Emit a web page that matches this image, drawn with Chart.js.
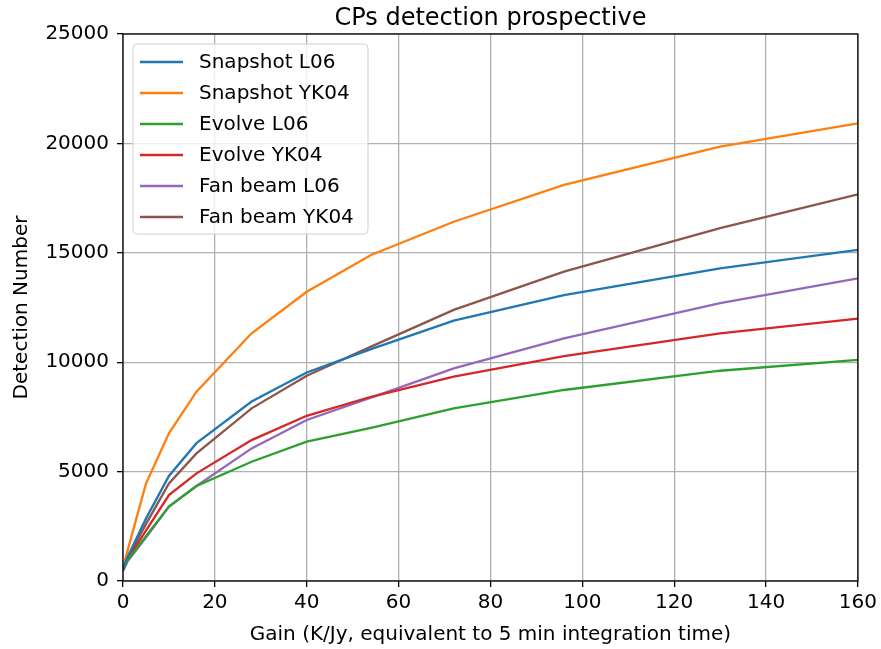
<!DOCTYPE html>
<html>
<head>
<meta charset="utf-8">
<script src="https://cdn.jsdelivr.net/npm/chart.js@4"></script>
<style>
  body { margin: 0; background: #fff; }
  #wrap { width: 881px; height: 649px; }
</style>
</head>
<body>
<div id="wrap"><canvas id="myChart" width="881" height="649"></canvas></div>
<script>
// gain values (K/Jy) where each curve was sampled
const gain = [0, 1, 5, 10, 16, 28, 40, 54, 72, 96, 130, 160];

const snapshotL06 = [550, 1100, 2850, 4800, 6300, 8200, 9530, 10600, 11900, 13070, 14290, 15130];
const snapshotYK04 = [600, 1400, 4450, 6750, 8650, 11320, 13220, 14900, 16420, 18100, 19850, 20920];
const evolveL06 = [500, 950, 2050, 3400, 4340, 5450, 6370, 7000, 7890, 8730, 9610, 10110];
const evolveYK04 = [520, 1000, 2300, 3930, 4920, 6440, 7550, 8420, 9340, 10280, 11320, 11990];
const fanBeamL06 = [450, 900, 1980, 3400, 4340, 6060, 7360, 8380, 9720, 11090, 12700, 13830];
const fanBeamYK04 = [530, 1050, 2600, 4460, 5830, 7890, 9380, 10710, 12390, 14140, 16130, 17670];

const labels = ["Snapshot L06", "Snapshot YK04", "Evolve L06", "Evolve YK04", "Fan beam L06", "Fan beam YK04"];
const xTicks = [0, 20, 40, 60, 80, 100, 120, 140, 160];
const yTicks = [0, 5000, 10000, 15000, 20000, 25000];

const series = [snapshotL06, snapshotYK04, evolveL06, evolveYK04, fanBeamL06, fanBeamYK04];
const colores = ["#1f77b4", "#ff7f0e", "#2ca02c", "#d62728", "#9467bd", "#8c564b"];

const titulo = "CPs detection prospective";
const FONT = "'DejaVu Sans', sans-serif";

function puntos(valores) {
  return gain.map((g, i) => ({ x: g, y: valores[i] }));
}

// black frame around the plot, like matplotlib spines
const marco = {
  id: "marco",
  afterDatasetsDraw(chart) {
    const a = chart.chartArea;
    const ctx = chart.ctx;
    ctx.save();
    ctx.strokeStyle = "#000";
    ctx.lineWidth = 1.3;
    ctx.strokeRect(a.left, a.top, a.right - a.left, a.bottom - a.top);
    ctx.restore();
  },
};

// title centred over the plot area (not over the whole canvas)
const tituloPlugin = {
  id: "tituloPlugin",
  afterDraw(chart) {
    const a = chart.chartArea;
    const ctx = chart.ctx;
    ctx.save();
    ctx.font = "24px " + FONT;
    ctx.fillStyle = "#000";
    ctx.textAlign = "center";
    ctx.textBaseline = "alphabetic";
    ctx.fillText(titulo, (a.left + a.right) / 2, 25);
    ctx.restore();
  },
};

// legend box in the upper left corner of the plot
const leyenda = {
  id: "leyenda",
  afterDraw(chart) {
    const ctx = chart.ctx;
    const a = chart.chartArea;
    const x0 = a.left + 10;
    const y0 = a.top + 10;
    const w = 235;
    const h = 190;
    ctx.save();
    ctx.fillStyle = "rgba(255,255,255,0.8)";
    ctx.strokeStyle = "#d0d0d0";
    ctx.lineWidth = 1;
    ctx.beginPath();
    ctx.roundRect(x0, y0, w, h, 4);
    ctx.fill();
    ctx.stroke();
    ctx.font = "20px " + FONT;
    ctx.textBaseline = "middle";
    chart.data.datasets.forEach((ds, i) => {
      const y = y0 + 18 + i * 31;
      ctx.strokeStyle = ds.borderColor;
      ctx.lineWidth = 2.3;
      ctx.beginPath();
      ctx.moveTo(x0 + 7, y);
      ctx.lineTo(x0 + 50, y);
      ctx.stroke();
      ctx.fillStyle = "#000";
      ctx.fillText(ds.label, x0 + 66, y + 1);
    });
    ctx.restore();
  },
};

const ctx = document.getElementById("myChart");
new Chart(ctx, {
  type: "line",
  data: {
    datasets: series.map((s, i) => ({
      label: labels[i],
      data: puntos(s),
      borderColor: colores[i],
      backgroundColor: colores[i],
      borderWidth: 2.3,
      pointRadius: 0,
      tension: 0,
      fill: false,
    })),
  },
  options: {
    responsive: false,
    animation: false,
    layout: { padding: { top: 34, left: 0, right: 23, bottom: 0 } },
    plugins: {
      legend: { display: false },
      tooltip: { enabled: false },
      title: { display: false },
    },
    scales: {
      x: {
        type: "linear",
        min: 0,
        max: 160,
        afterFit(scale) { scale.height = 68; },
        afterBuildTicks(scale) { scale.ticks = xTicks.map((v) => ({ value: v })); },
        ticks: {
          color: "#000",
          font: { family: FONT, size: 20 },
          padding: 4,
          maxRotation: 0,
          callback: (v) => String(v),
        },
        grid: { color: "#b0b0b0", lineWidth: 1.3, tickColor: "#000", tickLength: 6 },
        border: { display: false },
        title: {
          display: true,
          text: "Gain (K/Jy, equivalent to 5 min integration time)",
          color: "#000",
          font: { family: FONT, size: 20 },
          padding: { top: 0, bottom: 2 },
        },
      },
      y: {
        min: 0,
        max: 25000,
        afterFit(scale) { scale.width = 123; },
        afterBuildTicks(scale) { scale.ticks = yTicks.map((v) => ({ value: v })); },
        ticks: {
          color: "#000",
          font: { family: FONT, size: 20 },
          padding: 8,
          callback: (v) => String(v),
        },
        grid: { color: "#b0b0b0", lineWidth: 1.3, tickColor: "#000", tickLength: 6 },
        border: { display: false },
        title: {
          display: true,
          text: "Detection Number",
          color: "#000",
          font: { family: FONT, size: 20 },
          padding: { top: 10, bottom: 0 },
        },
      },
    },
  },
  plugins: [marco, tituloPlugin, leyenda],
});
</script>
</body>
</html>
